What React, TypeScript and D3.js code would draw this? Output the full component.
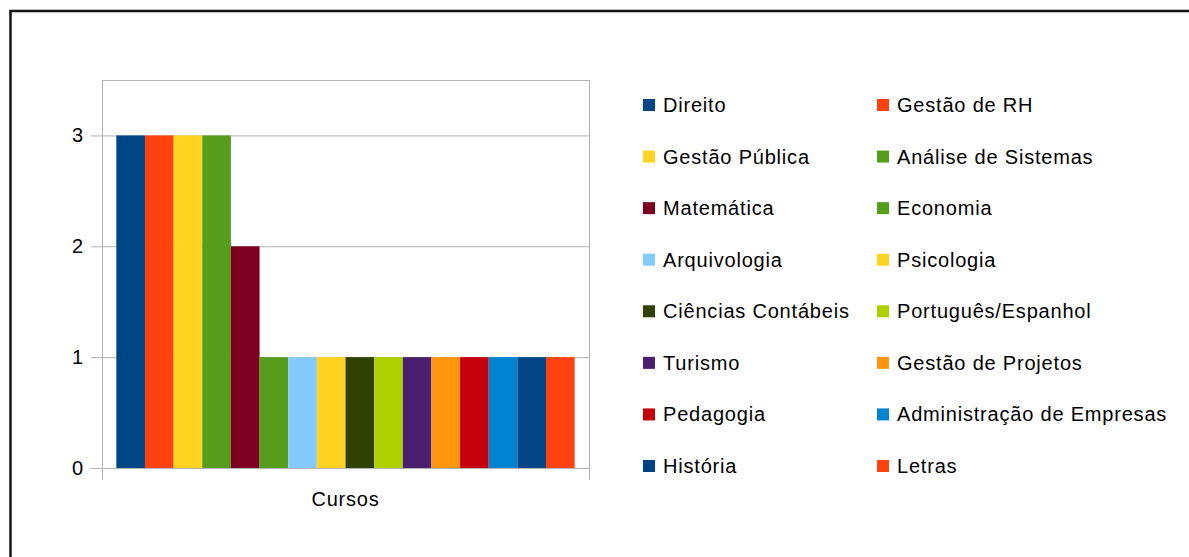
import React from 'react';
import * as d3 from 'd3';

// course names (legend order = bar order)
const courses = [
  'Direito',
  'Gestão de RH',
  'Gestão Pública',
  'Análise de Sistemas',
  'Matemática',
  'Economia',
  'Arquivologia',
  'Psicologia',
  'Ciências Contábeis',
  'Português/Espanhol',
  'Turismo',
  'Gestão de Projetos',
  'Pedagogia',
  'Administração de Empresas',
  'História',
  'Letras',
];
const counts = [3, 3, 3, 3, 2, 1, 1, 1, 1, 1, 1, 1, 1, 1, 1, 1];
const colors = [
  '#004586', '#ff420e', '#ffd320', '#579d1c', '#7e0021', '#579d1c', '#83caff', '#ffd320',
  '#314004', '#aecf00', '#4b1f6f', '#ff950e', '#c5000b', '#0084d1', '#004586', '#ff420e',
];
const categories = ['Cursos'];
const yTicks = [0, 1, 2, 3];

const W = 1189;
const H = 557;
const plot = { left: 102, right: 589, top: 80, bottom: 468 };
const font = 'Liberation Sans, Arial, sans-serif';

const App: React.FC = () => {
  const y = d3.scaleLinear().domain([0, 3.5]).range([plot.bottom, plot.top]);
  const x = d3.scaleBand<string>().domain(categories).range([plot.left, plot.right]);
  const xInner = d3
    .scaleBand<string>()
    .domain(courses)
    .range([0, x.bandwidth()])
    .paddingInner(0)
    .paddingOuter(0.5);

  // legend: 2 columns, 8 rows
  const legCol = d3.scaleOrdinal<number, number>().domain([0, 1]).range([643, 877]);
  const legRow = d3.scaleLinear().domain([0, 7]).range([105, 466]);

  return (
    <svg
      width={W}
      height={H}
      style={{ position: 'absolute', left: 0, top: 0, background: '#fff' }}
      fontFamily={font}
    >
      <rect x={0} y={0} width={W} height={H} fill="#fff" />
      {/* outer frame */}
      <rect x={10.5} y={11} width={W + 20} height={H + 20} fill="none" stroke="#111" strokeWidth={2.5} />

      {/* plot area frame */}
      <rect
        x={plot.left + 0.5}
        y={plot.top + 0.5}
        width={plot.right - plot.left}
        height={plot.bottom - plot.top}
        fill="none"
        stroke="#b3b3b3"
      />

      {/* gridlines + y ticks */}
      {yTicks.map((t) => (
        <g key={t}>
          <line x1={plot.left - 11} x2={plot.right} y1={y(t) + 0.5} y2={y(t) + 0.5} stroke="#b3b3b3" />
          <text x={83} y={y(t) + 7} textAnchor="end" fontSize={20} fill="#000">
            {t}
          </text>
        </g>
      ))}

      {/* x axis category ticks */}
      {[plot.left, plot.right].map((px) => (
        <line key={px} x1={px + 0.5} x2={px + 0.5} y1={plot.bottom} y2={plot.bottom + 12} stroke="#b3b3b3" />
      ))}

      {/* bars */}
      {categories.map((c) => (
        <g key={c} transform={`translate(${x(c)},0)`}>
          {courses.map((name, i) => (
            <rect
              key={name}
              x={xInner(name)}
              y={y(counts[i])}
              width={xInner.bandwidth()}
              height={y(0) - y(counts[i])}
              fill={colors[i]}
            />
          ))}
          <text
            x={x.bandwidth() / 2}
            y={506}
            textAnchor="middle"
            fontSize={20}
            letterSpacing={0.8}
            fill="#000"
          >
            {c}
          </text>
        </g>
      ))}

      {/* legend */}
      {courses.map((name, i) => {
        const cx = legCol(i % 2);
        const cy = legRow(Math.floor(i / 2));
        return (
          <g key={name}>
            <rect x={cx} y={cy - 6} width={12} height={12} fill={colors[i]} />
            <text x={cx + 20} y={cy + 7} fontSize={20} letterSpacing={0.8} fill="#000">
              {name}
            </text>
          </g>
        );
      })}
    </svg>
  );
};

export default App;
